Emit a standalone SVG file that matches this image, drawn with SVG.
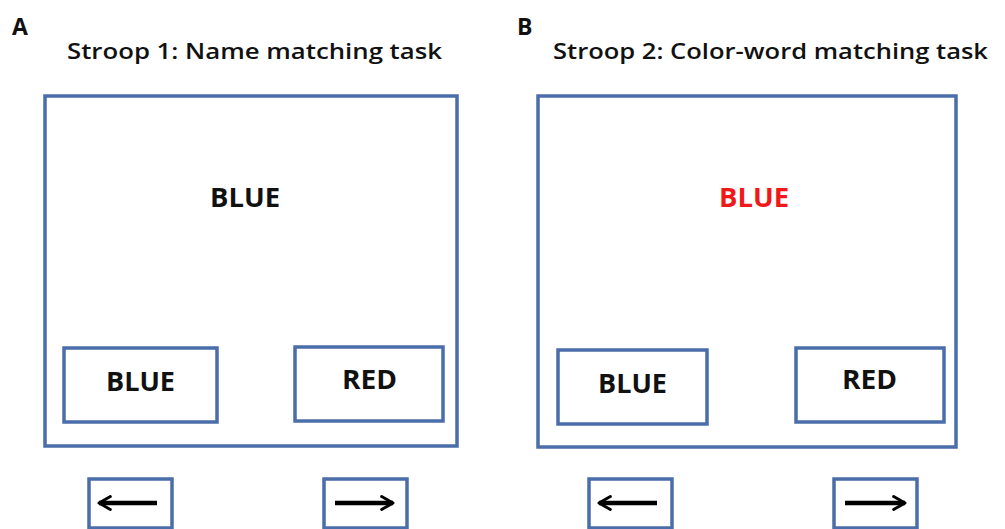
<svg xmlns="http://www.w3.org/2000/svg" width="1005" height="529" viewBox="0 0 1005 529">
<defs>
<style>
.box{fill:#fff;stroke:#4a6ea9;stroke-width:3.5}
.t{font-family:"Open Sans","Liberation Sans",sans-serif;font-weight:700;fill:#111}
.title{font-size:22px;font-weight:600}
.lbl{font-size:26px;text-anchor:middle}
.arr{stroke:#000;stroke-width:4.5;fill:none;marker-end:url(#head)}
</style>
<marker id="head" viewBox="0 0 10 10" refX="8" refY="5" markerWidth="3.6" markerHeight="5" orient="auto" markerUnits="strokeWidth">
<path d="M1,1 L8,5 L1,9" fill="none" stroke="#000" stroke-width="1.8" stroke-linecap="round" stroke-linejoin="round"/>
</marker>
</defs>
<rect width="1005" height="529" fill="#fff"/>
<g id="panelA">
<text class="t" x="12" y="35" font-size="23">A</text>
<text class="t title" x="67" y="59" textLength="375" lengthAdjust="spacingAndGlyphs">Stroop 1: Name matching task</text>
<g id="A-screen"><rect class="box" x="45" y="96" width="412" height="350"/>
<text class="t lbl" x="245" y="207" textLength="70" lengthAdjust="spacingAndGlyphs">BLUE</text></g>
<g id="A-blue"><rect class="box" x="64" y="348" width="153" height="74"/>
<text class="t lbl" x="140.5" y="391" textLength="69" lengthAdjust="spacingAndGlyphs">BLUE</text></g>
<g id="A-red"><rect class="box" x="295" y="347" width="148" height="74"/>
<text class="t lbl" x="369.5" y="389" textLength="55" lengthAdjust="spacingAndGlyphs">RED</text></g>
<g id="A-left"><rect class="box" x="89" y="479" width="83" height="49"/></g>
<g id="A-right"><rect class="box" x="324" y="479" width="83" height="49"/></g>
</g>
<g id="panelB">
<text class="t" x="517" y="35" font-size="23">B</text>
<text class="t title" x="553" y="59" textLength="435" lengthAdjust="spacingAndGlyphs">Stroop 2: Color-word matching task</text>
<g id="B-screen"><rect class="box" x="538" y="96" width="418" height="351"/>
<text class="t lbl" x="754" y="207" textLength="70" lengthAdjust="spacingAndGlyphs" style="fill:#f01818">BLUE</text></g>
<g id="B-blue"><rect class="box" x="558" y="350" width="149" height="74"/>
<text class="t lbl" x="632.5" y="393" textLength="69" lengthAdjust="spacingAndGlyphs">BLUE</text></g>
<g id="B-red"><rect class="box" x="796" y="348" width="148" height="74"/>
<text class="t lbl" x="869.5" y="389" textLength="55" lengthAdjust="spacingAndGlyphs">RED</text></g>
<g id="B-left"><rect class="box" x="589" y="479" width="83" height="49"/></g>
<g id="B-right"><rect class="box" x="834" y="479" width="83" height="49"/></g>
</g>
<g id="connectors">
<line class="arr" x1="157" y1="503" x2="99" y2="503"/>
<line class="arr" x1="335" y1="503" x2="393" y2="503"/>
<line class="arr" x1="657" y1="503" x2="599" y2="503"/>
<line class="arr" x1="845" y1="503" x2="905" y2="503"/>
</g>
</svg>
